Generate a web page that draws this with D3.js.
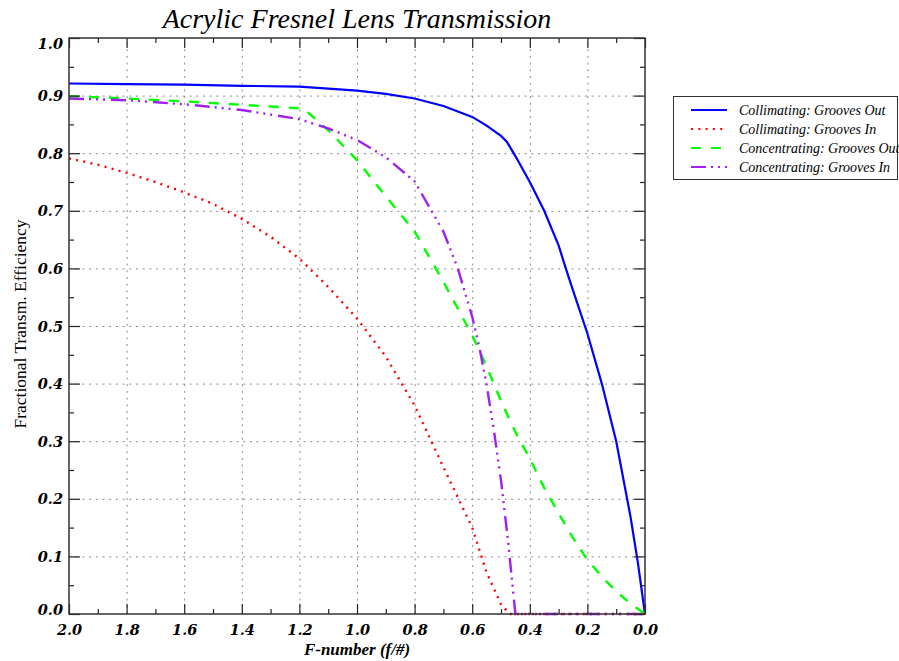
<!DOCTYPE html>
<html>
<head>
<meta charset="utf-8">
<script src="https://cdn.jsdelivr.net/npm/d3@7"></script>
<style>
body { margin: 0; background: #fff; }
</style>
</head>
<body>
<div id="chart"></div>
<script>
// tick values
var xMajor = [2.0, 1.8, 1.6, 1.4, 1.2, 1.0, 0.8, 0.6, 0.4, 0.2, 0.0];
var xMinor = [1.9, 1.7, 1.5, 1.3, 1.1, 0.9, 0.7, 0.5, 0.3, 0.1];
var yMajor = [0.0, 0.1, 0.2, 0.3, 0.4, 0.5, 0.6, 0.7, 0.8, 0.9, 1.0];
var yMinor = [0.05, 0.15, 0.25, 0.35, 0.45, 0.55, 0.65, 0.75, 0.85, 0.95];

// Collimating: Grooves Out
var colOutF = [2.0, 1.8, 1.6, 1.4, 1.2, 1.0, 0.9, 0.8, 0.7, 0.6, 0.55, 0.5, 0.48, 0.45, 0.4, 0.35, 0.3, 0.275, 0.25, 0.2, 0.15, 0.1, 0.05, 0.025, 0.0];
var colOutT = [0.921, 0.920, 0.919, 0.917, 0.9155, 0.9085, 0.903, 0.895, 0.882, 0.863, 0.848, 0.830, 0.820, 0.795, 0.750, 0.700, 0.640, 0.600, 0.562, 0.487, 0.400, 0.300, 0.168, 0.090, 0.0];

// Collimating: Grooves In
var colInF = [2.0, 1.9, 1.8, 1.7, 1.6, 1.5, 1.4, 1.3, 1.2, 1.1, 1.0, 0.9, 0.8, 0.7, 0.6, 0.55, 0.5, 0.47, 0.0];
var colInT = [0.791, 0.780, 0.766, 0.750, 0.732, 0.712, 0.686, 0.655, 0.617, 0.568, 0.513, 0.447, 0.362, 0.255, 0.150, 0.072, 0.017, 0.0, 0.0];

// Concentrating: Grooves Out
var conOutF = [2.0, 1.8, 1.6, 1.4, 1.3, 1.2, 1.18, 1.1, 1.0, 0.9, 0.8, 0.7, 0.6, 0.55, 0.5, 0.45, 0.4, 0.35, 0.3, 0.25, 0.2, 0.15, 0.1, 0.05, 0.0];
var conOutT = [0.899, 0.895, 0.890, 0.884, 0.881, 0.878, 0.875, 0.840, 0.788, 0.725, 0.664, 0.577, 0.484, 0.430, 0.370, 0.316, 0.270, 0.219, 0.175, 0.132, 0.094, 0.065, 0.039, 0.018, 0.0];

// Concentrating: Grooves In
var conInF = [2.0, 1.8, 1.6, 1.4, 1.2, 1.1, 1.0, 0.9, 0.8, 0.7, 0.65, 0.6, 0.575, 0.55, 0.525, 0.5, 0.475, 0.45, 0.0];
var conInT = [0.895, 0.892, 0.885, 0.875, 0.859, 0.843, 0.823, 0.793, 0.751, 0.664, 0.600, 0.516, 0.463, 0.398, 0.320, 0.232, 0.124, 0.0, 0.0];

var seriesNames = ["Collimating: Grooves Out", "Collimating: Grooves In", "Concentrating: Grooves Out", "Concentrating: Grooves In"];

function init(){
	var w = 899;
	var h = 661;
	var serif = "'Liberation Serif', 'Times New Roman', serif";
	var tickFont = "'DejaVu Serif', 'Liberation Serif', serif";

	var series = [
		{ name: seriesNames[0], f: colOutF, t: colOutT, color: "#0000ff", dash: null },
		{ name: seriesNames[1], f: colInF, t: colInT, color: "#ff0000", dash: "2,5.3" },
		{ name: seriesNames[2], f: conOutF, t: conOutT, color: "#00ff00", dash: "10,10" },
		{ name: seriesNames[3], f: conInF, t: conInT, color: "#a020f0", dash: "15,5,2,5,2,5,2,6" }
	];

	var xScale = d3.scaleLinear().domain([2, 0]).range([69, 645]);
	var yScale = d3.scaleLinear().domain([0, 1]).range([614, 38]);

	var svg = d3.select("#chart")
				.append("svg")
				.attr("width", w)
				.attr("height", h)
				.style("font-family", serif);

	//dotted grid
	svg.append("g")
		.attr("transform", "translate(0,614)")
		.call(d3.axisBottom(xScale).tickValues(xMajor.slice(1, -1)).tickSize(-576).tickFormat(""))
		.call(function(g){ g.select(".domain").remove(); })
		.selectAll("line")
		.attr("stroke", "#8a8a8a")
		.attr("stroke-dasharray", "2,4.7");

	svg.append("g")
		.attr("transform", "translate(69,0)")
		.call(d3.axisLeft(yScale).tickValues(yMajor.slice(1, -1)).tickSize(-576).tickFormat(""))
		.call(function(g){ g.select(".domain").remove(); })
		.selectAll("line")
		.attr("stroke", "#8a8a8a")
		.attr("stroke-dasharray", "2,4.7");

	//curves
	var line = d3.line()
				.x(function(d){ return xScale(d[0]); })
				.y(function(d){ return yScale(d[1]); });

	svg.selectAll(".curve")
		.data(series)
		.enter()
		.append("path")
		.attr("class", "curve")
		.attr("fill", "none")
		.attr("stroke", function(d){ return d.color; })
		.attr("stroke-width", function(d){ return d.dash ? 2.4 : 2.2; })
		.attr("stroke-dasharray", function(d){ return d.dash; })
		.attr("d", function(d){
			return line(d.f.map(function(f, i){ return [f, d.t[i]]; }));
		});

	//ticks on all four sides, pointing inward
	function ticks(axis, tr, vals, size){
		svg.append("g")
			.attr("transform", tr)
			.call(axis.tickValues(vals).tickSize(size).tickFormat(""))
			.call(function(g){ g.select(".domain").remove(); })
			.selectAll("line").attr("stroke", "#222").attr("stroke-width", 1.2);
	}
	ticks(d3.axisBottom(xScale), "translate(0,614)", xMajor, -10);
	ticks(d3.axisBottom(xScale), "translate(0,614)", xMinor, -5);
	ticks(d3.axisTop(xScale), "translate(0,38)", xMajor, -10);
	ticks(d3.axisTop(xScale), "translate(0,38)", xMinor, -5);
	ticks(d3.axisLeft(yScale), "translate(69,0)", yMajor, -11);
	ticks(d3.axisLeft(yScale), "translate(69,0)", yMinor, -5);
	ticks(d3.axisRight(yScale), "translate(645,0)", yMajor, -11);
	ticks(d3.axisRight(yScale), "translate(645,0)", yMinor, -5);

	//frame
	svg.append("rect")
		.attr("x", 69).attr("y", 38)
		.attr("width", 576).attr("height", 576)
		.attr("fill", "none")
		.attr("stroke", "#333")
		.attr("stroke-width", 1.5);

	//tick labels
	var xLab = svg.append("g")
		.attr("transform", "translate(0,614)")
		.call(d3.axisBottom(xScale).tickValues(xMajor).tickSize(0).tickPadding(11).tickFormat(d3.format(".1f")));
	xLab.select(".domain").remove();
	xLab.selectAll("text")
		.style("font-family", tickFont)
		.style("font-size", "14.5px")
		.style("font-weight", "bold")
		.style("font-style", "italic")
		.attr("fill", "#000");

	var yLab = svg.append("g")
		.attr("transform", "translate(69,0)")
		.call(d3.axisLeft(yScale).tickValues(yMajor).tickSize(0).tickPadding(6).tickFormat(d3.format(".1f")));
	yLab.select(".domain").remove();
	yLab.selectAll("text")
		.style("font-family", tickFont)
		.style("font-size", "14.5px")
		.style("font-weight", "bold")
		.style("font-style", "italic")
		.attr("fill", "#000")
		.attr("dy", function(d){
			if (d === 1.0) return "0.7em";
			if (d === 0.0) return "0.0em";
			return "0.35em";
		});

	//titles
	svg.append("text")
		.attr("x", 357).attr("y", 28)
		.attr("text-anchor", "middle")
		.style("font-size", "28px")
		.style("font-style", "italic")
		.text("Acrylic Fresnel Lens Transmission");

	svg.append("text")
		.attr("x", 357).attr("y", 655)
		.attr("text-anchor", "middle")
		.style("font-size", "17px")
		.style("font-style", "italic")
		.style("font-weight", "bold")
		.text("F-number (f/#)");

	svg.append("text")
		.attr("transform", "translate(26,324) rotate(-90)")
		.attr("text-anchor", "middle")
		.style("font-size", "17.5px")
		.text("Fractional Transm. Efficiency");

	//legend
	var legend = svg.append("g");
	legend.append("rect")
		.attr("x", 673.5).attr("y", 96.5)
		.attr("width", 224).attr("height", 83)
		.attr("fill", "#fff")
		.attr("stroke", "#333")
		.attr("stroke-width", 1);

	var rows = legend.selectAll(".row")
		.data(series)
		.enter()
		.append("g")
		.attr("class", "row")
		.attr("transform", function(d, i){ return "translate(0," + (110 + i * 19) + ")"; });

	rows.append("line")
		.attr("x1", 691).attr("x2", 727)
		.attr("stroke", function(d){ return d.color; })
		.attr("stroke-width", 2.2)
		.attr("stroke-dasharray", function(d){ return d.dash; });

	rows.append("text")
		.attr("x", 739).attr("dy", "0.35em")
		.style("font-size", "14px")
		.style("font-style", "italic")
		.text(function(d){ return d.name; });
}

window.onload = init;
</script>
</body>
</html>
